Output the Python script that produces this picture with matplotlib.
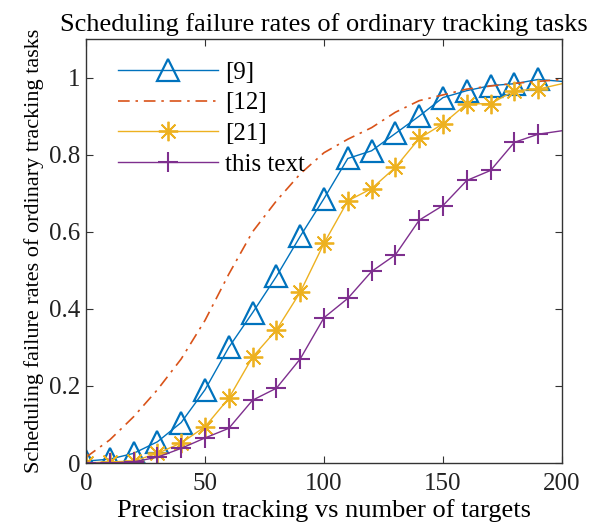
import matplotlib
matplotlib.use("Agg")
import matplotlib.pyplot as plt
import numpy as np

x = [0, 10, 20, 30, 40, 50, 60, 70, 80, 90, 100, 110, 120, 130, 140, 150, 160, 170, 180, 190, 200]
ref9 = [0.005, 0.01, 0.025, 0.055, 0.105, 0.19, 0.30, 0.39, 0.484, 0.588, 0.686, 0.79, 0.81, 0.855, 0.90, 0.948, 0.966, 0.979, 0.984, 0.995, 0.99]
ref12 = [0.015, 0.06, 0.12, 0.19, 0.27, 0.37, 0.49, 0.60, 0.68, 0.75, 0.805, 0.84, 0.87, 0.91, 0.94, 0.955, 0.97, 0.978, 0.985, 0.99, 0.995]
ref21 = [0.0, 0.003, 0.005, 0.025, 0.052, 0.094, 0.168, 0.275, 0.345, 0.443, 0.57, 0.68, 0.712, 0.767, 0.842, 0.88, 0.932, 0.932, 0.966, 0.97, 0.984]
ours = [0.0, 0.0, 0.003, 0.015, 0.038, 0.065, 0.09, 0.163, 0.194, 0.27, 0.377, 0.427, 0.497, 0.54, 0.63, 0.668, 0.733, 0.759, 0.832, 0.853, 0.862]
labels = ["[9]", "[12]", "[21]", "this text"]

title = "Scheduling failure rates of ordinary tracking tasks"
xlabel = "Precision tracking vs number of targets"
ylabel = "Scheduling failure rates of ordinary tracking tasks"
xticks = [0, 50, 100, 150, 200]
yticks = [0, 0.2, 0.4, 0.6, 0.8, 1]
yticklabels = ["0", "0.2", "0.4", "0.6", "0.8", "1"]

plt.rcParams['font.family'] = ['Liberation Serif', 'DejaVu Serif']

c_blue = (0.0, 0.447, 0.741)
c_orange = (0.85, 0.325, 0.098)
c_yellow = (0.929, 0.694, 0.125)
c_purple = (0.494, 0.184, 0.556)

fig = plt.figure(figsize=(6.0, 5.22), dpi=100)
ax = fig.add_axes([86/600, 1-463/522, 476/600, 424/522])

mk = list(range(len(x) - 1))
ax.plot(x, ref9, color=c_blue, lw=1.0, marker='^', markersize=16, mfc='none',
        mew=1.6, markevery=mk, label=labels[0])
ax.plot(x, ref12, color=c_orange, lw=1.2, linestyle=(0, (7, 3.5, 1.5, 3.5)), label=labels[1])
ax.plot(x, ref21, color=c_yellow, lw=1.0, marker=(8, 2, 0), markersize=14,
        mew=1.3, markevery=mk, label=labels[2])
ax.plot(x, ours, color=c_purple, lw=1.0, marker='+', markersize=15,
        mew=1.5, markevery=mk, label=labels[3])

ax.set_xlim(0, 200)
ax.set_ylim(0, 1.1)
ax.set_xticks(xticks)
ax.set_yticks(yticks)
ax.set_yticklabels(yticklabels)
ax.tick_params(direction='in', top=True, right=True, labelsize=18, length=5,
               width=0.8, colors='#333333', labelcolor='#222222')
ax.tick_params(axis='x', pad=7)
ax.tick_params(axis='y', pad=4)
for s in ax.spines.values():
    s.set_color('#333333')
    s.set_linewidth(1.0)

ax.set_title(title, fontsize=19, pad=6)
ax.set_xlabel(xlabel, fontsize=19, labelpad=3)
ax.set_ylabel(ylabel, fontsize=16, labelpad=4)

leg = ax.legend(loc='upper left', bbox_to_anchor=((118-86)/476, 1 - (61-39)/424),
                frameon=False, fontsize=18, handlelength=4.0, handletextpad=0.28,
                borderpad=0, borderaxespad=0, labelspacing=0.33, numpoints=1)

fig.savefig("out.png", dpi=100)
